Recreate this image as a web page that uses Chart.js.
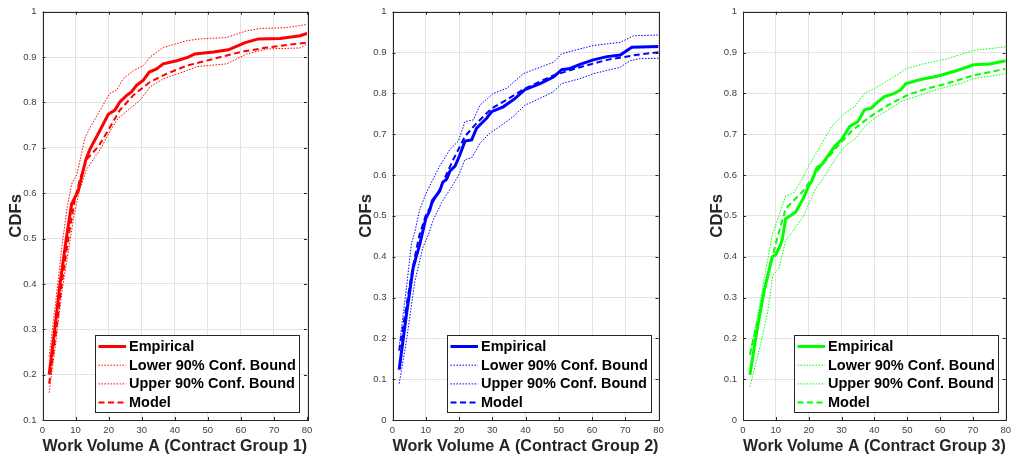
<!DOCTYPE html>
<html>
<head>
<meta charset="utf-8">
<script src="https://cdn.jsdelivr.net/npm/chart.js@4.4.1/dist/chart.umd.min.js"></script>
<style>
  body { margin: 0; background: #fff; }
  #wrap { position: relative; width: 1016px; height: 465px; }
  #wrap canvas { position: absolute; left: 0; top: 0; }
</style>
</head>
<body>
<div id="wrap">
  <canvas id="c1" width="1016" height="465"></canvas>
  <canvas id="c2" width="1016" height="465"></canvas>
  <canvas id="c3" width="1016" height="465"></canvas>
</div>
<script>
// legend labels, shared by all three panels
let seriesNames = ['Empirical', 'Lower 90% Conf. Bound', 'Upper 90% Conf. Bound', 'Model'];
let groupNames = ['Work Volume A (Contract Group 1)', 'Work Volume A (Contract Group 2)', 'Work Volume A (Contract Group 3)'];

// [work volume, CDF]
let g1Empirical = [[2,0.20],[3.7,0.30],[5.3,0.40],[7.2,0.50],[8.8,0.576],[10.8,0.605],[13.1,0.674],[14.3,0.696],[17.2,0.736],[19.9,0.774],[21.9,0.783],[23.4,0.801],[25.4,0.815],[26.9,0.823],[28.5,0.838],[30.5,0.849],[32.3,0.867],[34.5,0.874],[36.5,0.885],[40.6,0.892],[44.1,0.900],[46.1,0.907],[51.7,0.911],[56.2,0.916],[61.3,0.932],[65.3,0.940],[71.9,0.941],[77.9,0.947],[80,0.952]];
let g1Lower = [[2,0.16],[4,0.27],[6,0.39],[8,0.48],[9.5,0.55],[11.3,0.609],[13.3,0.652],[17.4,0.696],[20.4,0.736],[22.9,0.765],[26.5,0.787],[29.5,0.805],[32.5,0.834],[36.5,0.852],[43.6,0.870],[46.7,0.879],[55.7,0.885],[61.8,0.907],[67.8,0.918],[77.9,0.920],[80,0.929]];
let g1Upper = [[2,0.24],[4,0.36],[6,0.49],[7.5,0.57],[8.8,0.62],[10.4,0.641],[12.8,0.721],[14.3,0.743],[17.4,0.783],[20.4,0.820],[22.4,0.827],[24.4,0.852],[27.5,0.870],[30.5,0.881],[32.5,0.900],[36.5,0.921],[43.6,0.936],[47.6,0.940],[55.7,0.943],[61.8,0.958],[65.8,0.963],[73.9,0.965],[80,0.972]];
let g1Model = [[2,0.18],[4,0.29],[6,0.41],[8,0.51],[9.8,0.587],[11.3,0.63],[13.3,0.674],[16.9,0.703],[20,0.74],[23.4,0.783],[27.5,0.816],[32.5,0.845],[37.5,0.863],[43.6,0.881],[51.7,0.896],[59.8,0.911],[67.8,0.921],[80,0.932]];

let g2Empirical = [[2,0.123],[4.2,0.259],[6.2,0.372],[7,0.396],[8.2,0.43],[10,0.493],[11.2,0.513],[12,0.537],[14.2,0.561],[15.1,0.582],[16.3,0.59],[17.3,0.61],[18.8,0.622],[20.1,0.646],[21.8,0.683],[23.8,0.686],[25.3,0.715],[28.3,0.739],[29.8,0.755],[33.3,0.767],[36.8,0.787],[39.8,0.809],[44.4,0.824],[48.4,0.84],[50.9,0.858],[53.4,0.861],[56.4,0.871],[60.4,0.882],[64.5,0.89],[68.5,0.894],[72,0.913],[80,0.915]];
let g2Lower = [[2,0.089],[4.2,0.194],[6.7,0.339],[9.2,0.424],[10.7,0.452],[12.2,0.489],[14.8,0.533],[17.3,0.565],[19.8,0.598],[21.8,0.638],[23.8,0.642],[26.3,0.678],[29.3,0.703],[32.3,0.719],[36.3,0.743],[39.8,0.771],[44.4,0.788],[48.4,0.804],[50.9,0.824],[56.4,0.836],[60.4,0.848],[68.5,0.864],[71.5,0.88],[74.5,0.885],[80,0.886]];
let g2Upper = [[2,0.18],[4,0.31],[5.7,0.432],[6.7,0.46],[8.2,0.516],[10,0.553],[12.2,0.59],[14.2,0.622],[17.3,0.663],[19.8,0.683],[21.8,0.731],[24.3,0.735],[26.3,0.771],[30.3,0.8],[34.3,0.812],[39.3,0.848],[44.4,0.864],[48.4,0.876],[50.9,0.897],[56.4,0.909],[60.4,0.917],[68.5,0.925],[72.5,0.941],[80,0.943]];
let g2Model = [[2,0.17],[4,0.27],[6,0.37],[8,0.45],[10,0.501],[14.2,0.565],[17.8,0.63],[21.8,0.695],[25.3,0.727],[29.8,0.763],[34.3,0.784],[39.8,0.812],[48.4,0.844],[56.4,0.864],[64.5,0.882],[72.5,0.893],[80,0.901]];

let g3Empirical = [[2.1,0.111],[4.4,0.226],[6.4,0.315],[8.9,0.4],[9.9,0.404],[11.4,0.428],[12,0.444],[13,0.493],[14.5,0.501],[16,0.509],[18.5,0.545],[20,0.574],[21,0.586],[22.5,0.618],[24,0.626],[28,0.671],[30,0.687],[32.5,0.719],[35,0.731],[37,0.76],[39.1,0.764],[40.6,0.776],[43.1,0.792],[46.1,0.8],[48.1,0.809],[49.6,0.824],[54.1,0.834],[59.1,0.842],[65.2,0.856],[70.2,0.87],[75.2,0.872],[80,0.88]];
let g3Lower = [[2.1,0.081],[4.9,0.17],[7.4,0.259],[9.1,0.355],[10.9,0.371],[13,0.44],[15,0.46],[18.5,0.501],[22,0.565],[25,0.598],[28,0.638],[31,0.671],[34.5,0.691],[37,0.719],[40.1,0.739],[44.1,0.759],[48.1,0.78],[54.1,0.796],[60.1,0.812],[66.2,0.824],[70.2,0.836],[80,0.848]];
let g3Upper = [[2.1,0.16],[4.9,0.275],[6.9,0.364],[8.9,0.453],[13,0.549],[15.5,0.557],[18,0.59],[20,0.622],[23,0.663],[27,0.719],[31,0.751],[34,0.767],[37,0.8],[40.1,0.812],[45.1,0.836],[49.6,0.86],[54.8,0.872],[61.8,0.884],[70.2,0.905],[80,0.914]];
let g3Model = [[2.1,0.16],[4.4,0.24],[7,0.33],[9.9,0.43],[13,0.518],[18,0.558],[23,0.614],[28,0.663],[33,0.707],[38,0.739],[44.1,0.771],[50.1,0.796],[56.1,0.812],[62.1,0.824],[70.2,0.844],[80,0.86]];

let yMins = [0.1, 0, 0];
let lineColors = ['#ff0000', '#0000ff', '#00ff00'];

const FONT = "'Liberation Sans', Arial, Helvetica, sans-serif";
const AXIS = '#262626';

// plot box of each panel on the page
let boxes = [
    { left: 42.5, right: 307 },
    { left: 392.5, right: 658.5 },
    { left: 743, right: 1008.5 }
];
const TOP = 7, BOTTOM = 420, YW = 36;

const DOT = [1.5, 1.5];
const DASH = [6, 3.5];

function makeSeries(label, pts, color, width, dash) {
    return {
        label: label,
        data: pts.map(function(p) { return { x: p[0], y: p[1] }; }),
        borderColor: color,
        borderWidth: width,
        borderDash: dash,
        pointRadius: 0,
        fill: false,
        tension: 0
    };
}

// box, inward ticks and the legend drawn in matlab style
const matlabFrame = {
    id: 'matlabFrame',
    afterDraw(chart) {
        let ctx = chart.ctx;
        let a = chart.chartArea;
        let xs = chart.scales.x, ys = chart.scales.y;
        ctx.save();
        ctx.strokeStyle = AXIS;
        ctx.lineWidth = 1;
        ctx.setLineDash([]);
        ctx.beginPath();
        xs.ticks.forEach(function(t) {
            let px = Math.round(xs.getPixelForValue(t.value)) + 0.5;
            ctx.moveTo(px, a.bottom); ctx.lineTo(px, a.bottom - 3);
            ctx.moveTo(px, a.top); ctx.lineTo(px, a.top + 3);
        });
        ys.ticks.forEach(function(t) {
            let py = Math.round(ys.getPixelForValue(t.value)) + 0.5;
            ctx.moveTo(a.left, py); ctx.lineTo(a.left + 3, py);
            ctx.moveTo(a.right, py); ctx.lineTo(a.right - 3, py);
        });
        ctx.stroke();
        ctx.strokeRect(Math.round(a.left) + 0.5, Math.round(a.top) + 0.5,
            Math.round(a.right - a.left), Math.round(a.bottom - a.top));

        // legend in the lower right corner
        let sets = chart.data.datasets;
        ctx.font = 'bold 14.5px ' + FONT;
        let widest = 0;
        sets.forEach(function(d) { widest = Math.max(widest, ctx.measureText(d.label).width); });
        let rowH = 18.7;
        let w = Math.round(33.5 + widest + 4);
        let h = Math.round(rowH * sets.length + 2);
        let bx = Math.round(a.right - 8 - w) + 0.5;
        let by = Math.round(a.bottom - 8 - h) + 0.5;
        ctx.fillStyle = '#ffffff';
        ctx.fillRect(bx, by, w, h);
        ctx.strokeStyle = AXIS;
        ctx.strokeRect(bx, by, w, h);
        ctx.textBaseline = 'middle';
        ctx.textAlign = 'left';
        sets.forEach(function(d, i) {
            let cy = by + 11 + i * rowH;
            ctx.beginPath();
            ctx.strokeStyle = d.borderColor;
            ctx.lineWidth = d.borderWidth;
            ctx.setLineDash(d.borderDash || []);
            ctx.moveTo(bx + 3, cy);
            ctx.lineTo(bx + 30.5, cy);
            ctx.stroke();
            ctx.fillStyle = '#000000';
            ctx.fillText(d.label, bx + 33.5, cy + 0.5);
        });
        ctx.restore();
    }
};

let allGroups = [
    [g1Empirical, g1Lower, g1Upper, g1Model],
    [g2Empirical, g2Lower, g2Upper, g2Model],
    [g3Empirical, g3Lower, g3Upper, g3Model]
];

allGroups.forEach(function(group, i) {
    let color = lineColors[i];
    let box = boxes[i];
    let canvas = document.getElementById('c' + (i + 1)).getContext('2d');
    new Chart(canvas, {
        type: 'line',
        data: {
            datasets: [
                makeSeries(seriesNames[0], group[0], color, 3, []),
                makeSeries(seriesNames[1], group[1], color, 1, DOT),
                makeSeries(seriesNames[2], group[2], color, 1, DOT),
                makeSeries(seriesNames[3], group[3], color, 2, DASH)
            ]
        },
        options: {
            responsive: false,
            animation: false,
            devicePixelRatio: 1,
            layout: {
                padding: { left: box.left - YW, right: 1016 - box.right, top: TOP, bottom: 0 }
            },
            plugins: {
                legend: { display: false },
                tooltip: { enabled: false }
            },
            scales: {
                x: {
                    type: 'linear',
                    min: 0,
                    max: 80,
                    afterFit: function(scale) { scale.height = 465 - BOTTOM; },
                    grid: { color: '#e3e3e3', drawTicks: false },
                    border: { display: false },
                    ticks: {
                        stepSize: 10,
                        padding: 5,
                        maxRotation: 0,
                        color: '#404040',
                        font: { family: FONT, size: 9.5 }
                    },
                    title: {
                        display: true,
                        text: groupNames[i],
                        color: AXIS,
                        padding: { top: 0, bottom: 9 },
                        font: { family: FONT, size: 16.7, weight: 'bold' }
                    }
                },
                y: {
                    min: yMins[i],
                    max: 1,
                    afterFit: function(scale) { scale.width = YW; },
                    grid: { color: '#e3e3e3', drawTicks: false },
                    border: { display: false },
                    ticks: {
                        stepSize: 0.1,
                        padding: 6,
                        color: '#404040',
                        font: { family: FONT, size: 9.5 },
                        callback: function(v) { return String(+v.toFixed(1)); }
                    },
                    title: {
                        display: true,
                        text: 'CDFs',
                        color: AXIS,
                        padding: { top: 0, bottom: 0 },
                        font: { family: FONT, size: 16.7, weight: 'bold' }
                    }
                }
            }
        },
        plugins: [matlabFrame]
    });
});
</script>
</body>
</html>
